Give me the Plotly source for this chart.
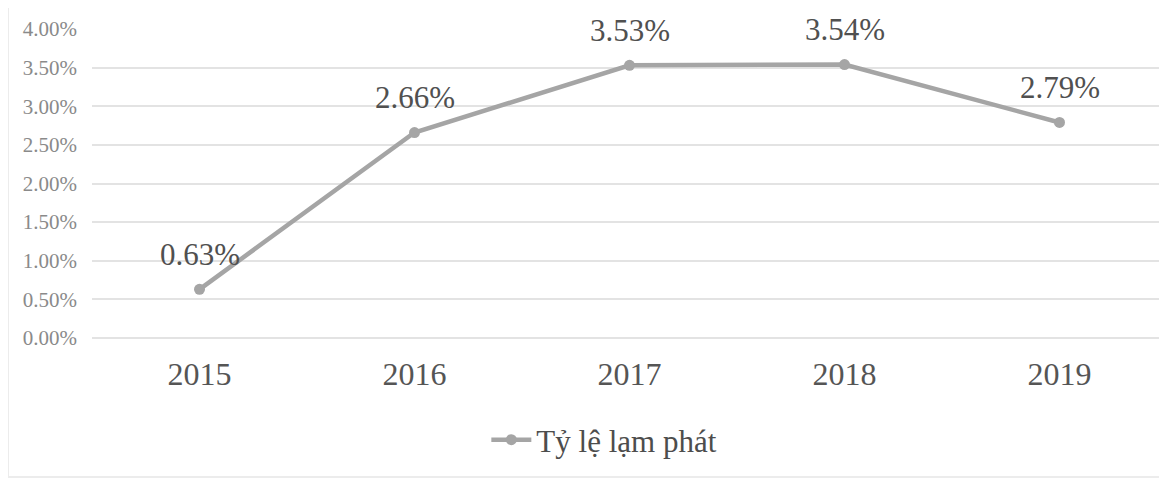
import plotly.graph_objects as go

years = ["2015", "2016", "2017", "2018", "2019"]
inflation = [0.0063, 0.0266, 0.0353, 0.0354, 0.0279]
series_name = "Tỷ lệ lạm phát"
y_ticks = [0, 0.005, 0.01, 0.015, 0.02, 0.025, 0.03, 0.035, 0.04]
labels = [f"{v*100:.2f}%" for v in inflation]

FONT = "Liberation Serif"
LINE_COLOR = "#a5a5a5"

fig = go.Figure()
fig.add_trace(go.Scatter(
    x=years, y=inflation, mode="lines+markers", name=series_name,
    line=dict(color=LINE_COLOR, width=4.5),
    marker=dict(color=LINE_COLOR, size=11, symbol="circle"),
    hoverinfo="skip",
))

# data labels as annotations (category index on x, value on y)
for i, (v, t) in enumerate(zip(inflation, labels)):
    fig.add_annotation(
        x=i, y=v, xref="x", yref="y", text=t, showarrow=False,
        yshift=35, font=dict(family=FONT, size=31, color="#505050"),
    )

fig.update_layout(
    width=1167, height=479,
    margin=dict(l=84, r=8, t=21, b=149),
    paper_bgcolor="white", plot_bgcolor="white",
    font=dict(family=FONT),
    showlegend=True,
    legend=dict(
        orientation="h", xref="container", yref="container",
        x=0.511, xanchor="center", y=0.098, yanchor="middle",
        font=dict(family=FONT, size=31, color="#4d4d4d"),
        itemwidth=40,
    ),
    xaxis=dict(
        type="category", range=[-0.5, 4.5], showgrid=False, zeroline=False,
        showline=False, ticks="", ticklabelstandoff=14,
        tickfont=dict(family=FONT, size=32, color="#555555"),
    ),
    yaxis=dict(
        range=[0, 0.04], tickvals=y_ticks, tickformat=".2%",
        showgrid=True, gridcolor="#e3e3e3", gridwidth=1.5,
        zeroline=True, zerolinecolor="#e3e3e3", zerolinewidth=1.5,
        showline=False, ticks="", ticklabelstandoff=14,
        tickfont=dict(family=FONT, size=21, color="#8a8a8a"),
    ),
)

fig.add_shape(type="rect", xref="paper", yref="paper",
              x0=-0.0781, x1=1.05, y0=-0.45, y1=1.2,
              line=dict(color="#ececec", width=2), fillcolor="rgba(0,0,0,0)",
              layer="below")

fig.write_html("out.html")
